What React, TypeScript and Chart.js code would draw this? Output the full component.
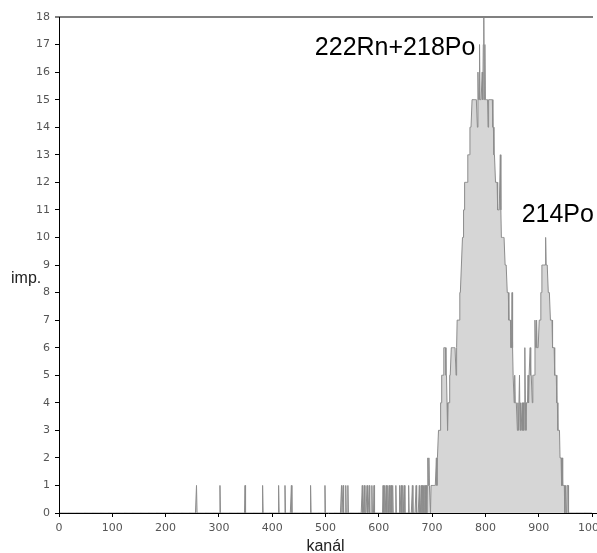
import React, { useEffect, useRef } from "react";
import { Chart, registerables } from "chart.js";

Chart.register(...registerables);

// ---- axes ----
const X_MIN = 0;
const X_MAX = 1000;
const X_STEP = 100;
const Y_MIN = 0;
const Y_MAX = 18;
const Y_STEP = 1;
const xTitle = "kanál";
const yTitle = "imp.";

// ---- spectrum data (counts per channel) ----
// isolated channels holding a single count, below the peaks
const singleCountChannels = [
  258, 302, 349, 382, 412, 424, 436, 472, 499, 530, 533, 538, 542, 569, 573,
  578, 582, 587, 591, 608, 611, 614, 617, 620, 623, 626, 632, 639, 642, 645,
  648, 656, 663, 670, 676,
];

// dense region of the two peaks, channel by channel, starting here
const peakStartChannel = 680;
const peakCounts = [
  1, 0, 1, 0, 1, 0, 1, 1, 0, 1, // 680
  0, 1, 2, 1, 2, 1, 1, 0, 1, 1, // 690
  1, 1, 1, 1, 1, 1, 1, 1, 2, 1, // 700
  2, 2, 3, 3, 3, 3, 4, 4, 5, 5, // 710
  5, 5, 6, 6, 6, 6, 5, 5, 4, 3, // 720
  4, 4, 4, 5, 5, 5, 6, 6, 6, 6, // 730
  6, 6, 6, 6, 6, 5, 6, 7, 7, 7, // 740
  7, 7, 8, 8, 8, 9, 9, 10, 10, 11, // 750
  11, 12, 12, 12, 12, 12, 12, 13, 13, 13, // 760
  13, 14, 14, 14, 14, 15, 15, 15, 15, 15, // 770
  15, 15, 15, 15, 15, 14, 16, 15, 15, 17, // 780
  15, 15, 15, 15, 16, 15, 17, 18, 15, 17, // 790
  15, 15, 15, 15, 15, 14, 15, 15, 15, 15, // 800
  15, 15, 15, 15, 14, 14, 13, 13, 13, 12, // 810
  12, 12, 12, 11, 11, 11, 11, 11, 13, 11, // 820
  10, 10, 10, 10, 10, 10, 10, 9, 9, 9, // 830
  9, 8, 8, 8, 7, 7, 7, 7, 6, 6, // 840
  8, 6, 5, 5, 4, 5, 4, 4, 4, 4, // 850
  3, 4, 3, 3, 5, 3, 4, 3, 3, 4, // 860
  3, 4, 3, 4, 6, 4, 3, 4, 4, 4, // 870
  5, 4, 5, 5, 6, 5, 5, 5, 4, 5, // 880
  5, 5, 5, 7, 6, 6, 7, 6, 6, 6, // 890
  6, 7, 7, 7, 8, 8, 9, 9, 9, 9, // 900
  9, 9, 9, 10, 9, 9, 9, 9, 8, 8, // 910
  8, 8, 7, 7, 7, 7, 6, 6, 6, 6, // 920
  5, 5, 5, 5, 4, 4, 3, 3, 3, 3, // 930
  2, 2, 2, 1, 2, 1, 1, 1, 1, 0, // 940
  1, 1, 0, 1, 1, 1, 0, 0, // 950
];

// ---- peak labels ----
const peakLabels = ["222Rn+218Po", "214Po"];
const peakLabelChannels = [480, 868];
const peakLabelCounts = [16.62, 10.56];

function buildSpectrum() {
  const pts: { x: number; y: number }[] = [];
  const singles = new Set(singleCountChannels);
  for (let ch = X_MIN; ch <= X_MAX; ch++) {
    let c = 0;
    const i = ch - peakStartChannel;
    if (i >= 0 && i < peakCounts.length) c = peakCounts[i];
    else if (singles.has(ch)) c = 1;
    pts.push({ x: ch, y: c });
  }
  return pts;
}

const overlayPlugin = {
  id: "overlay",
  afterDatasetsDraw(chart: any) {
    const { ctx, chartArea, scales } = chart;
    const xs = scales.x;
    const ys = scales.y;
    ctx.save();
    // top line at 18
    const yTop = Math.round(ys.getPixelForValue(Y_MAX));
    ctx.strokeStyle = "#808080";
    ctx.lineWidth = 2;
    ctx.beginPath();
    ctx.moveTo(chartArea.left - 4, yTop);
    ctx.lineTo(chartArea.right + 1, yTop);
    ctx.stroke();
    // axes
    ctx.strokeStyle = "#000";
    ctx.lineWidth = 1;
    const yb = Math.round(ys.getPixelForValue(0)) + 0.5;
    const xl = Math.round(xs.getPixelForValue(0)) + 0.5;
    ctx.beginPath();
    ctx.moveTo(xl, yTop);
    ctx.lineTo(xl, yb);
    ctx.lineTo(chart.width, yb);
    ctx.stroke();
    // peak labels
    ctx.fillStyle = "#000";
    ctx.font = "25px 'Liberation Sans', Arial, sans-serif";
    ctx.textAlign = "left";
    ctx.textBaseline = "alphabetic";
    peakLabels.forEach((t, i) => {
      ctx.fillText(
        t,
        xs.getPixelForValue(peakLabelChannels[i]),
        ys.getPixelForValue(peakLabelCounts[i])
      );
    });
    // axis titles
    ctx.font = "16px 'Liberation Sans', Arial, sans-serif";
    ctx.fillStyle = "#222";
    ctx.textAlign = "left";
    ctx.fillText(yTitle, 11, 283);
    ctx.textAlign = "center";
    ctx.fillText(xTitle, (chartArea.left + chartArea.right) / 2, 551);
    ctx.restore();
  },
};

export default function App() {
  const ref = useRef<HTMLCanvasElement | null>(null);
  useEffect(() => {
    document.body.style.margin = "0";
    if (!ref.current) return;
    const tickFont = { family: "'DejaVu Sans', Verdana, sans-serif", size: 11 };
    const chart = new Chart(ref.current, {
      type: "line",
      data: {
        datasets: [
          {
            data: buildSpectrum(),
            borderColor: "#8c8c8c",
            backgroundColor: "#d6d6d6",
            borderWidth: 1,
            fill: "origin",
            pointRadius: 0,
            tension: 0,
          },
        ],
      },
      options: {
        animation: false,
        responsive: true,
        maintainAspectRatio: false,
        parsing: false,
        normalized: true,
        layout: { padding: { left: 0, right: 5, top: 17, bottom: 0 } },
        plugins: { legend: { display: false }, tooltip: { enabled: false } },
        scales: {
          x: {
            type: "linear",
            min: X_MIN,
            max: X_MAX,
            ticks: {
              stepSize: X_STEP,
              font: tickFont,
              color: "#555",
              padding: 5,
              maxRotation: 0,
              callback: (v: any) => String(v),
            },
            grid: { drawOnChartArea: false, tickLength: 4, color: "#000", tickColor: "#000" },
            border: { display: false },
            afterFit: (s: any) => {
              s.height = 40;
              s.paddingLeft = 0;
              s.paddingRight = 0;
            },
          },
          y: {
            type: "linear",
            min: Y_MIN,
            max: Y_MAX,
            ticks: {
              stepSize: Y_STEP,
              font: tickFont,
              color: "#555",
              padding: 5,
              callback: (v: any) => String(v),
            },
            grid: { drawOnChartArea: false, tickLength: 4, color: "#000", tickColor: "#000" },
            border: { display: false },
            afterFit: (s: any) => {
              s.width = 59;
              s.paddingTop = 0;
              s.paddingBottom = 0;
            },
          },
        },
      },
      plugins: [overlayPlugin],
    });
    return () => chart.destroy();
  }, []);
  return (
    <div style={{ position: "relative", width: 597, height: 553, background: "#fff" }}>
      <canvas ref={ref} />
    </div>
  );
}
